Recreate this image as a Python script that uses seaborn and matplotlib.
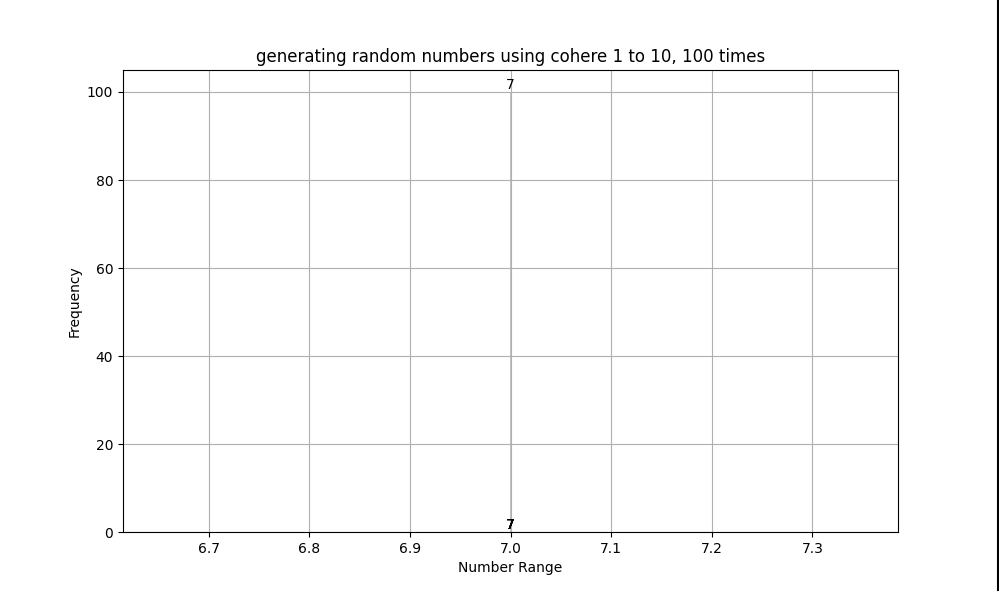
import numpy as np
import matplotlib.pyplot as plt
import seaborn as sns
from matplotlib.lines import Line2D

# every draw came out as 7
values = [7]
counts = [100]
# ten bins between min and max, which are the same number here
bin_edges = [7, 7, 7, 7, 7, 7, 7, 7, 7, 7, 7]

fig = plt.figure(figsize=(9.99, 5.95), dpi=100)
ax = fig.add_axes([123 / 999, 63 / 595, 775 / 999, 462 / 595])

sns.histplot(x=values, weights=counts, bins=bin_edges, ax=ax,
             color='#1f77b4', edgecolor='#b8b8b8', linewidth=1.2)

# label each bar with its bin value
for p in ax.patches:
    ax.text(p.get_x() + p.get_width() / 2, p.get_height(), str(int(p.get_x())),
            ha='center', va='bottom', fontsize=10)

ax.set_title('generating random numbers using cohere 1 to 10, 100 times')
ax.set_xlabel('Number Range')
ax.set_ylabel('Frequency')
ax.grid(True)

fig.add_artist(Line2D([998.2 / 999, 998.2 / 999], [5 / 595, 1], color='black', lw=1.5))

fig.savefig('out.png', dpi=100)
